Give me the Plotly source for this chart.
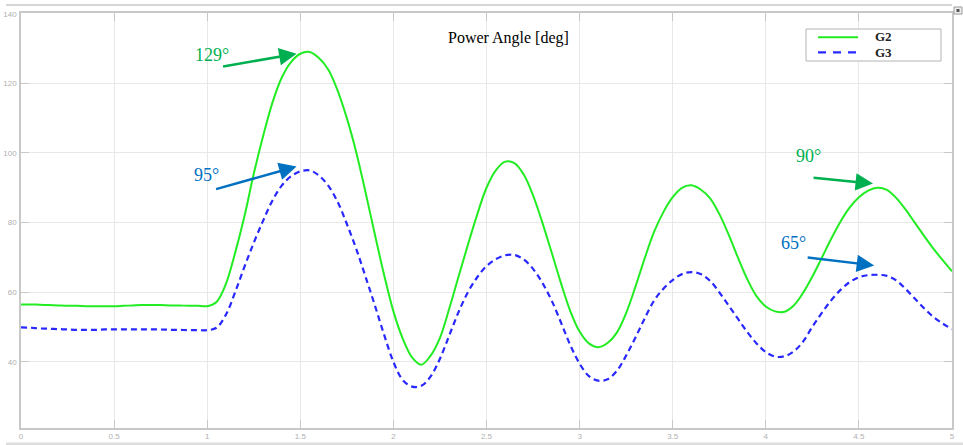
import plotly.graph_objects as go

# ---- data: generator power angles after the disturbance ----
# sample times [s], 0.05 s step from 0 to 5 s
time_s = [round(0.05 * i, 2) for i in range(101)]

g2_deg = [
    56.5, 56.5, 56.4, 56.3, 56.2, 56.1, 56.1, 56.0, 56.0, 56.0,     # 0.00 - 0.45
    56.0, 56.1, 56.2, 56.3, 56.3, 56.3, 56.2, 56.2, 56.1, 56.1,     # 0.50 - 0.95
    56.0, 57.2, 62.3, 71.3, 81.8, 94.0, 104.8, 114.4, 121.6, 126.1,  # 1.00 - 1.45
    128.5, 129.0, 127.3, 124.0, 118.0, 110.0, 100.3, 88.8, 76.7, 65.0,  # 1.50 - 1.95
    54.5, 46.7, 41.3, 39.2, 41.8, 46.9, 55.3, 64.5, 73.6, 82.3,     # 2.00 - 2.45
    90.0, 95.0, 97.5, 97.1, 93.8, 87.8, 80.0, 71.4, 62.6, 54.6,     # 2.50 - 2.95
    48.7, 45.3, 44.2, 45.4, 48.4, 54.0, 61.6, 69.8, 77.3, 83.0,     # 3.00 - 3.45
    87.3, 90.0, 90.7, 89.5, 87.0, 82.5, 76.6, 70.0, 63.8, 58.9,     # 3.50 - 3.95
    55.9, 54.5, 54.4, 56.2, 59.8, 64.5, 69.8, 75.2, 80.2, 84.3,     # 4.00 - 4.45
    87.3, 89.2, 90.0, 89.4, 87.1, 83.8, 80.0, 76.2, 72.5, 69.2,     # 4.50 - 4.95
    66.0,                                                           # 5.00
]

g3_deg = [
    49.9, 49.8, 49.6, 49.5, 49.4, 49.3, 49.2, 49.2, 49.2, 49.3,     # 0.00 - 0.45
    49.3, 49.3, 49.3, 49.3, 49.3, 49.3, 49.2, 49.2, 49.1, 49.1,     # 0.50 - 0.95
    49.1, 49.8, 53.5, 60.0, 67.3, 74.2, 80.5, 86.3, 90.6, 93.3,     # 1.00 - 1.45
    94.7, 95.0, 93.5, 90.6, 86.0, 79.6, 72.5, 64.5, 56.3, 47.8,     # 1.50 - 1.95
    40.0, 34.8, 32.9, 33.1, 35.8, 40.9, 47.6, 54.3, 60.0, 64.3,     # 2.00 - 2.45
    67.5, 69.5, 70.6, 70.7, 69.4, 66.7, 62.7, 57.6, 51.3, 44.8,     # 2.50 - 2.95
    39.5, 35.9, 34.6, 35.0, 37.4, 41.8, 47.0, 52.5, 57.6, 61.0,     # 3.00 - 3.45
    63.5, 65.2, 65.8, 65.2, 63.3, 60.0, 56.2, 52.4, 48.6, 45.3,     # 3.50 - 3.95
    42.8, 41.5, 41.6, 43.0, 45.8, 50.1, 54.0, 57.6, 60.6, 62.9,     # 4.00 - 4.45
    64.3, 64.9, 65.0, 64.7, 63.4, 61.0, 58.2, 55.4, 52.9, 51.0,     # 4.50 - 4.95
    49.4,                                                           # 5.00
]

series_names = ["G2", "G3"]
peak_labels = ["129°", "95°", "90°", "65°"]
x_ticks = [0, 0.5, 1, 1.5, 2, 2.5, 3, 3.5, 4, 4.5, 5]
y_ticks = [40, 60, 80, 100, 120, 140]

# ---- styling ----
W, H = 963, 445
ML, MR, MT, MB = 21, 11, 13, 17
PW, PH = W - ML - MR, H - MT - MB

G2_COLOR = "rgb(34,236,34)"
G3_COLOR = "rgb(40,40,255)"
ANN_GREEN = "#00b050"
ANN_BLUE = "#0070c0"
SERIF = "Liberation Serif, Times New Roman, serif"
AXIS_GRAY = "#c8c8c8"


def xp(px):
    """pixel column -> paper x"""
    return (px - ML) / PW


def yp(py):
    """pixel row -> paper y"""
    return (H - MB - py) / PH


fig = go.Figure()
fig.add_trace(go.Scatter(x=time_s, y=g2_deg, name=series_names[0], mode="lines",
                         line=dict(color=G2_COLOR, width=2, shape="spline", smoothing=1.0)))
fig.add_trace(go.Scatter(x=time_s, y=g3_deg, name=series_names[1], mode="lines",
                         line=dict(color=G3_COLOR, width=2.2, dash="6px,4px",
                                   shape="spline", smoothing=1.0)))

axis_common = dict(
    showgrid=True, gridcolor="#e8e8e8", gridwidth=1,
    showline=True, linecolor=AXIS_GRAY, linewidth=1.5, mirror="allticks",
    ticks="inside", ticklen=8, tickcolor=AXIS_GRAY, tickwidth=1,
    tickfont=dict(family="Liberation Sans, Arial, sans-serif", size=8, color="#b0b0b0"),
    zeroline=False, fixedrange=True, automargin=False,
)

fig.update_layout(
    width=W, height=H,
    margin=dict(l=ML, r=MR, t=MT, b=MB, autoexpand=False),
    paper_bgcolor="white", plot_bgcolor="white",
    showlegend=False,
    xaxis=dict(range=[0, 5], tickvals=x_ticks, ticktext=[f"{v:g}" for v in x_ticks],
               **axis_common),
    yaxis=dict(range=[21, 140.2], tickvals=y_ticks, ticktext=[str(v) for v in y_ticks],
               ticklabelstandoff=1, **axis_common),
)

annotations = []

# chart title inside the plot area
annotations.append(dict(text="Power Angle [deg]", xref="paper", yref="paper",
                        x=xp(508), y=yp(38), xanchor="center", yanchor="middle",
                        showarrow=False, font=dict(family=SERIF, size=16, color="black")))

# peak arrows (tip in data coordinates, tail offset in pixels)
arrows = [
    (1.48, 128.5, -75, 13, ANN_GREEN),
    (1.48, 96.1, -82, 23, ANN_BLUE),
    (4.576, 91.2, -61, -6, ANN_GREEN),
    (4.582, 67.7, -68, -8, ANN_BLUE),
]
for x, y, ax, ay, c in arrows:
    annotations.append(dict(x=x, y=y, xref="x", yref="y", ax=ax, ay=ay,
                            axref="pixel", ayref="pixel", text="", showarrow=True,
                            arrowhead=2, arrowsize=1.4, arrowwidth=2.5, arrowcolor=c,
                            standoff=0, startstandoff=0))

# peak value labels
label_pos = [(0.923, 128.0, ANN_GREEN), (0.917, 93.7, ANN_BLUE),
             (4.152, 99.1, ANN_GREEN), (4.072, 74.2, ANN_BLUE)]
for txt, (x, y, c) in zip(peak_labels, label_pos):
    annotations.append(dict(x=x, y=y, xref="x", yref="y", text=txt, showarrow=False,
                            xanchor="left", yanchor="middle",
                            font=dict(family=SERIF, size=18, color=c)))

# legend entries
for name, py in zip(series_names, [36.5, 52.5]):
    annotations.append(dict(text=f"<b>{name}</b>", xref="paper", yref="paper",
                            x=xp(883), y=yp(py), xanchor="center", yanchor="middle",
                            showarrow=False, font=dict(family=SERIF, size=13, color="#222")))

shapes = [
    # legend box and line samples
    dict(type="rect", xref="paper", yref="paper", x0=xp(806), x1=xp(941),
         y0=yp(29), y1=yp(61), line=dict(color="#b4b4b4", width=1),
         fillcolor="white", layer="above"),
    dict(type="line", xref="paper", yref="paper", x0=xp(818), x1=xp(858),
         y0=yp(37.3), y1=yp(37.3), line=dict(color=G2_COLOR, width=2), layer="above"),
    dict(type="line", xref="paper", yref="paper", x0=xp(818), x1=xp(858),
         y0=yp(52.3), y1=yp(52.3), line=dict(color=G3_COLOR, width=2.2, dash="8px,7px"),
         layer="above"),
    # window frame: top rule, bottom band and corner button
    dict(type="line", xref="paper", yref="paper", x0=xp(6), x1=xp(952),
         y0=yp(5), y1=yp(5), line=dict(color="#c8c8c8", width=1.5)),
    dict(type="line", xref="paper", yref="paper", x0=xp(6), x1=xp(963),
         y0=yp(444), y1=yp(444), line=dict(color="#dedede", width=3)),
    dict(type="rect", xref="paper", yref="paper", x0=xp(954), x1=xp(962),
         y0=yp(7), y1=yp(14), line=dict(color="#9a9a9a", width=1), fillcolor="#eeeeee"),
    dict(type="rect", xref="paper", yref="paper", x0=xp(956.5), x1=xp(959.5),
         y0=yp(9), y1=yp(12), line=dict(width=0), fillcolor="#555555"),
]

fig.update_layout(annotations=annotations, shapes=shapes)

fig.write_html("out.html", config={"displayModeBar": False})
